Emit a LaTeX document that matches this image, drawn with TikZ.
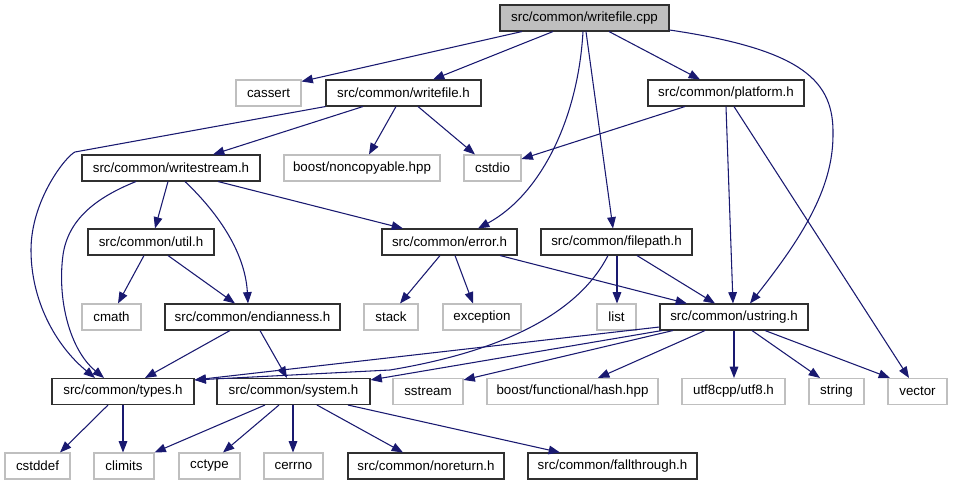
\documentclass[tikz,border=0pt]{standalone}
\usepackage{fontspec}
\setmainfont{Liberation Sans}
\usetikzlibrary{arrows.meta}
\definecolor{edgeblue}{HTML}{191970}
\definecolor{greyline}{HTML}{BFBFBF}
\definecolor{rootfill}{HTML}{BFBFBF}
\definecolor{blkline}{HTML}{303030}
\begin{document}
\begin{tikzpicture}[x=0.75pt,y=-0.75pt,
  box/.style={minimum height=19.5pt, inner sep=0pt, font=\fontsize{10}{12}\selectfont, line width=0.8pt},
  blk/.style={box, draw=blkline},
  gry/.style={box, draw=greyline},
  root/.style={box, draw=blkline, fill=rootfill},
  wd/.style={minimum width=#1*0.75pt},
  e/.style={draw=edgeblue, line width=0.8pt, -{Triangle[length=8.5pt,width=6.5pt]}}]
\useasboundingbox (0,0) rectangle (953,485);
% nodes
\node[root, wd=169] (cpp) at (584.5,18) {src/common/writefile.cpp};
\node[gry, wd=65] (cassert) at (268.5,93) {cassert};
\node[blk, wd=155] (writefileh) at (403.5,93) {src/common/writefile.h};
\node[blk, wd=156] (platform) at (726,93) {src/common/platform.h};
\node[blk, wd=178] (writestream) at (171,168) {src/common/writestream.h};
\node[gry, wd=156] (noncopy) at (362,168) {boost/noncopyable.hpp};
\node[gry, wd=57] (cstdio) at (492.5,168) {cstdio};
\node[blk, wd=126] (util) at (151,242) {src/common/util.h};
\node[blk, wd=135] (error) at (449.5,242) {src/common/error.h};
\node[blk, wd=151] (filepath) at (616.5,242) {src/common/filepath.h};
\node[gry, wd=59] (cmath) at (111.5,317) {cmath};
\node[blk, wd=175] (endian) at (252.5,317) {src/common/endianness.h};
\node[gry, wd=54] (stack) at (391,317) {stack};
\node[gry, wd=78] (exception) at (482,317) {exception};
\node[gry, wd=39] (list) at (616.5,317) {list};
\node[blk, wd=148] (ustring) at (734,317) {src/common/ustring.h};
\node[blk, wd=142] (types) at (123,391.5) {src/common/types.h};
\node[blk, wd=153] (system) at (293.5,391.5) {src/common/system.h};
\node[gry, wd=70] (sstream) at (428,391.5) {sstream};
\node[gry, wd=171] (hash) at (572.5,391.5) {boost/functional/hash.hpp};
\node[gry, wd=103] (utf8) at (733.5,391.5) {utf8cpp/utf8.h};
\node[gry, wd=55] (string) at (836.5,391.5) {string};
\node[gry, wd=59] (vector) at (917.5,391.5) {vector};
\node[gry, wd=65] (cstddef) at (37.5,466) {cstddef};
\node[gry, wd=60] (climits) at (124,466) {climits};
\node[gry, wd=61] (cctype) at (209.5,466) {cctype};
\node[gry, wd=59] (cerrno) at (293.5,466) {cerrno};
\node[blk, wd=156] (noreturn) at (426,466) {src/common/noreturn.h};
\node[blk, wd=169] (fallthrough) at (612.5,466) {src/common/fallthrough.h};
% edges from cpp
\path[e] (cpp.south -| 522,0) -- ([yshift=-1.5pt]cassert.north east);
\path[e] (cpp.south -| 553,0) -- (writefileh.north -| 433,0);
\path[e] (cpp.south -| 583,0) .. controls (578,120) and (540,195) .. (error.north -| 478,0);
\path[e] (cpp.south -| 586,0) -- (filepath.north -| 613,0);
\path[e] (cpp.south -| 609,0) -- (platform.north -| 700,0);
\path[e] (cpp.east |- 0,30) .. controls (805,50) and (834,82) .. (833,135) .. controls (833,190) and (800,240) .. (ustring.north -| 750,0);
% writefile.h
\path[e] (writefileh.south west) -- (75,152) .. controls (66,156) and (31,200) .. (31,250) .. controls (31,300) and (55,345) .. (types.north -| 95,0);
\path[e] (writefileh.south -| 363,0) -- (writestream.north -| 213,0);
\path[e] (writefileh.south -| 396,0) -- (noncopy.north -| 369,0);
\path[e] (writefileh.south -| 418,0) -- (cstdio.north -| 475,0);
% platform.h
\path[e] (platform.south -| 685,0) -- (cstdio.east |- 0,159);
\path[e] (platform.south -| 726,0) -- (ustring.north -| 733,0);
\path[e] (platform.south -| 734,0) -- (vector.north -| 909,0);
% writestream.h
\path[e] (writestream.south -| 168,0) -- (util.north -| 155,0);
\path[e] (writestream.south -| 185,0) .. controls (215,210) and (245,250) .. (endian.north -| 248,0);
\path[e] (writestream.south -| 136,0) .. controls (95,198) and (68,220) .. (63,255) .. controls (57,300) and (70,350) .. (types.north -| 104,0);
\path[e] (writestream.south -| 218,0) -- (error.north -| 403,0);
% util.h
\path[e] (util.south -| 144,0) -- (cmath.north -| 118,0);
\path[e] (util.south -| 168,0) -- (endian.north -| 235,0);
% error.h
\path[e] (error.south -| 440,0) -- (stack.north -| 400,0);
\path[e] (error.south -| 455,0) -- (exception.north -| 473,0);
\path[e] (error.south -| 500,0) -- (ustring.north -| 687,0);
% filepath.h
\path[e] (filepath.south -| 617,0) -- (list.north -| 617,0);
\path[e] (filepath.south -| 637,0) -- (ustring.north -| 715,0);
\path[e] (filepath.south -| 608,0) .. controls (580,310) and (510,350) .. (390,370) -- ([yshift=-1.5pt]types.north east);
% endianness.h
\path[e] (endian.south -| 230,0) -- (types.north -| 145,0);
\path[e] (endian.south -| 260,0) -- (system.north -| 287,0);
% ustring.h
\path[e] (ustring.west |- 0,327) -- ([yshift=-1.5pt]types.north east);
\path[e] (ustring.south -| 662,0) -- ([yshift=-1.5pt]system.north east);
\path[e] (ustring.south -| 673,0) -- ([yshift=-1.5pt]sstream.north east);
\path[e] (ustring.south -| 705,0) -- (hash.north -| 598,0);
\path[e] (ustring.south -| 734,0) -- (utf8.north -| 734,0);
\path[e] (ustring.south -| 752,0) -- (string.north -| 820,0);
\path[e] (ustring.south -| 765,0) -- (vector.north -| 890,0);
% types.h
\path[e] (types.south -| 108,0) -- (cstddef.north -| 60,0);
\path[e] (types.south -| 123,0) -- (climits.north -| 123,0);
% system.h
\path[e] (system.south -| 265,0) -- (climits.north east);
\path[e] (system.south -| 279,0) -- (cctype.north -| 223,0);
\path[e] (system.south -| 293,0) -- (cerrno.north -| 293,0);
\path[e] (system.south -| 317,0) -- (noreturn.north -| 403,0);
\path[e] (system.south -| 348,0) -- (fallthrough.north -| 560,0);
\end{tikzpicture}
\end{document}
